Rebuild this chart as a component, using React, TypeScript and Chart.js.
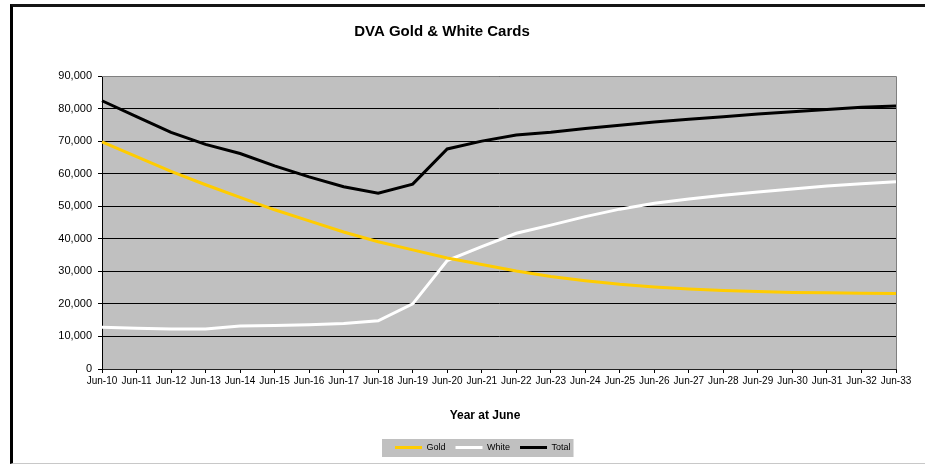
import React, { useEffect, useRef } from "react";
import { Chart, registerables } from "chart.js";

Chart.register(...registerables);

const categories = [
  "Jun-10", "Jun-11", "Jun-12", "Jun-13", "Jun-14", "Jun-15", "Jun-16", "Jun-17",
  "Jun-18", "Jun-19", "Jun-20", "Jun-21", "Jun-22", "Jun-23", "Jun-24", "Jun-25",
  "Jun-26", "Jun-27", "Jun-28", "Jun-29", "Jun-30", "Jun-31", "Jun-32", "Jun-33",
];

const gold = [
  69800, 65200, 60700, 56600, 52700, 48900, 45500, 42100, 39100, 36600, 34100, 32100,
  30100, 28400, 27100, 26000, 25200, 24600, 24100, 23800, 23500, 23400, 23300, 23200,
];

const white = [
  12800, 12500, 12300, 12300, 13200, 13400, 13600, 14000, 14800, 20000, 33300, 37600,
  41700, 44200, 46800, 49100, 50900, 52200, 53400, 54400, 55300, 56200, 56900, 57500,
];

const total = [
  82400, 77500, 72700, 69000, 66200, 62400, 59000, 56000, 54000, 56800, 67600, 70000,
  71900, 72700, 73900, 74900, 75900, 76700, 77500, 78300, 79000, 79700, 80400, 80800,
];

const seriesNames = ["Gold", "White", "Total"];
const seriesColors = ["#FFCC00", "#FFFFFF", "#000000"];

const chartTitle = "DVA Gold & White Cards";
const xAxisTitle = "Year at June";

const yMin = 0;
const yMax = 90000;
const yStep = 10000;

const FONT = "'Liberation Sans', Arial, Helvetica, sans-serif";

const LEGEND_FIRST_X = 395;

const framePlugin = {
  id: "excelFrame",
  afterUpdate(chart: any) {
    const lg = chart.legend;
    if (!lg || !lg.legendHitBoxes || !lg.legendHitBoxes.length) return;
    const dx = LEGEND_FIRST_X - lg.legendHitBoxes[0].left;
    lg.left += dx;
    lg.right += dx;
    for (const hb of lg.legendHitBoxes) hb.left += dx;
  },
  beforeDraw(chart: any) {
    const { ctx, chartArea: a } = chart;
    ctx.save();
    ctx.fillStyle = "#C0C0C0";
    ctx.fillRect(a.left, a.top, a.right - a.left, a.bottom - a.top);
    const lg = chart.legend;
    if (lg && lg.legendHitBoxes && lg.legendHitBoxes.length) {
      const hb = lg.legendHitBoxes;
      const first = hb[0];
      const last = hb[hb.length - 1];
      const cy = first.top + first.height / 2;
      const x0 = first.left - 13;
      const x1 = last.left + last.width + 3;
      ctx.fillStyle = "#C0C0C0";
      ctx.fillRect(x0, Math.round(cy - 9), x1 - x0, 18);
    }
    ctx.restore();
  },
  beforeDatasetsDraw(chart: any) {
    const { ctx, chartArea: a } = chart;
    ctx.save();
    ctx.strokeStyle = "#808080";
    ctx.lineWidth = 1;
    ctx.beginPath();
    ctx.moveTo(a.left, Math.round(a.top) + 0.5);
    ctx.lineTo(Math.round(a.right) + 0.5, Math.round(a.top) + 0.5);
    ctx.lineTo(Math.round(a.right) + 0.5, a.bottom);
    ctx.stroke();
    ctx.restore();
  },
  afterDraw(chart: any) {
    const { ctx } = chart;
    ctx.save();
    ctx.fillStyle = "#000";
    ctx.textAlign = "center";
    ctx.textBaseline = "middle";
    ctx.font = `bold 15px ${FONT}`;
    ctx.fillText(chartTitle, 442, 32);
    ctx.font = `bold 12px ${FONT}`;
    ctx.fillText(xAxisTitle, 485, 416);
    ctx.restore();
  },
};

export default function App() {
  const canvasRef = useRef<HTMLCanvasElement | null>(null);

  useEffect(() => {
    document.body.style.margin = "0";
    const canvas = canvasRef.current;
    if (!canvas) return;
    Chart.defaults.font.family = FONT;
    Chart.defaults.color = "#000";

    const datasets = [gold, white, total].map((values, i) => ({
      label: seriesNames[i],
      data: values,
      borderColor: seriesColors[i],
      backgroundColor: seriesColors[i],
      borderWidth: 3,
      pointRadius: 0,
      pointHoverRadius: 0,
      tension: 0,
      fill: false,
    }));

    const chart = new Chart(canvas, {
      type: "line",
      data: { labels: categories, datasets },
      plugins: [framePlugin],
      options: {
        animation: false,
        responsive: false,
        maintainAspectRatio: false,
        events: [],
        layout: { padding: { left: 40, right: 29, top: 76, bottom: 3 } },
        plugins: {
          title: { display: false },
          tooltip: { enabled: false },
          legend: {
            display: true,
            position: "bottom",
            align: "center",
            labels: {
              usePointStyle: true,
              pointStyle: "line",
              pointStyleWidth: 27,
              boxHeight: 9,
              padding: 10,
              color: "#000",
              font: { size: 9, family: FONT },
            },
          },
        },
        scales: {
          x: {
            type: "category",
            offset: false,
            grid: {
              display: true,
              drawOnChartArea: false,
              drawTicks: true,
              tickLength: 4,
              color: "#000",
            },
            border: { display: true, color: "#222", width: 1 },
            ticks: {
              autoSkip: false,
              maxRotation: 0,
              minRotation: 0,
              padding: 2,
              color: "#000",
              font: { size: 10, family: FONT },
            },
            afterFit(scale: any) {
              scale.height = 64;
            },
          },
          y: {
            type: "linear",
            min: yMin,
            max: yMax,
            ticks: {
              stepSize: yStep,
              padding: 6,
              color: "#000",
              font: { size: 11, family: FONT },
              callback: (v: any) => Number(v).toLocaleString("en-US"),
            },
            grid: {
              display: true,
              drawOnChartArea: true,
              drawTicks: true,
              tickLength: 4,
              color: "#000",
              lineWidth: 1,
            },
            border: { display: true, color: "#000", width: 1 },
            afterFit(scale: any) {
              scale.width = 62;
            },
          },
        },
      },
    });

    return () => {
      chart.destroy();
    };
  }, []);

  return (
    <div
      style={{
        position: "relative",
        width: 925,
        height: 465,
        overflow: "hidden",
        background: "#fff",
      }}
    >
      <div
        style={{
          position: "absolute",
          left: 10,
          top: 4,
          width: 940,
          height: 456,
          borderLeft: "3px solid #000",
          borderTop: "3px solid #151515",
          borderBottom: "1px solid #c8c8c8",
          boxSizing: "content-box",
        }}
      />
      <canvas
        ref={canvasRef}
        width={925}
        height={465}
        style={{ position: "absolute", left: 0, top: 0, width: 925, height: 465, display: "block" }}
      />
    </div>
  );
}
